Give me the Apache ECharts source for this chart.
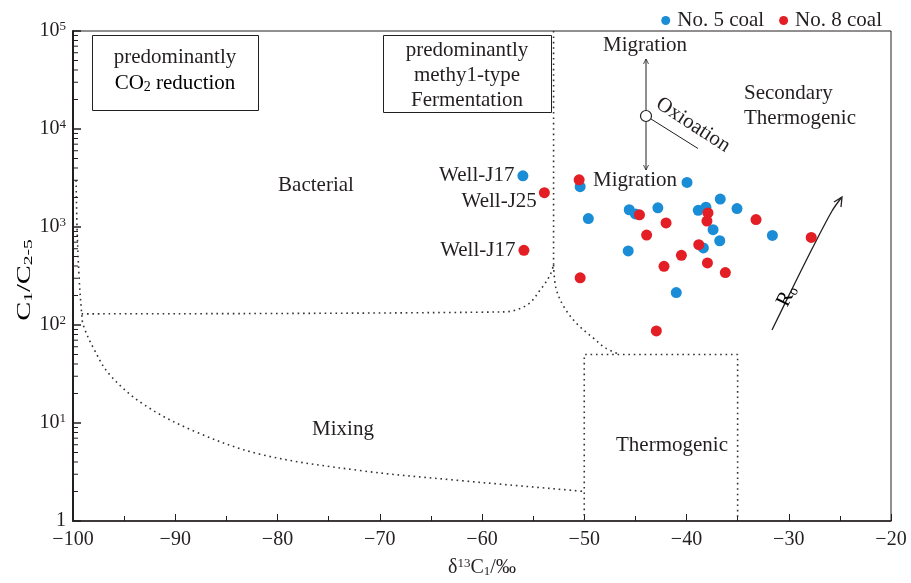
<!DOCTYPE html>
<html>
<head>
<meta charset="utf-8">
<script src="https://cdn.jsdelivr.net/npm/echarts@6/dist/echarts.min.js"></script>
<style>
  html, body { margin: 0; padding: 0; background: #fff; }
  #chart { width: 911px; height: 583px; }
</style>
</head>
<body>
<div id="chart"></div>
<script>
// δ13C1 (‰) vs C1/C2-5 for the two coal seams
const no5Coal = [
  [-56.0, 3330],
  [-50.4, 2580],
  [-39.95, 2850],
  [-49.6, 1220],
  [-45.6, 1500],
  [-45.0, 1360],
  [-42.8, 1570],
  [-45.7, 570],
  [-41.0, 214],
  [-38.85, 1480],
  [-38.1, 1590],
  [-37.4, 940],
  [-36.7, 1930],
  [-35.06, 1540],
  [-36.75, 724],
  [-38.35, 611],
  [-31.6, 820]
];
const no8Coal = [
  [-55.9, 578],
  [-53.9, 2240],
  [-50.5, 3030],
  [-44.6, 1330],
  [-42.0, 1100],
  [-43.9, 827],
  [-40.5, 514],
  [-42.2, 397],
  [-42.95, 87],
  [-50.4, 303],
  [-37.9, 1390],
  [-38.0, 1150],
  [-38.8, 660],
  [-37.95, 430],
  [-36.2, 343],
  [-33.2, 1190],
  [-27.8, 783]
];
// well names attached to individual samples: [series, index, name]
const wellNames = [
  ['No. 5 coal', 0, 'Well-J17'],
  ['No. 8 coal', 0, 'Well-J17'],
  ['No. 8 coal', 1, 'Well-J25']
];

// genetic-field boundaries (δ13C1, C1/C2-5)
const bacterialDivide = [[-53.0, 100000], [-53.0, 410]];
const bacterialFloor = [[-99.15, 130], [-57.9, 136], [-55.6, 160], [-54.2, 236], [-53.35, 322], [-53.0, 410]];
const thermogenicCurve = [[-53.0, 410], [-52.76, 236], [-51.9, 148], [-50.6, 100], [-49.1, 73.5], [-47.9, 58], [-46.5, 50]];
const mixingCurve = [[-99.7, 3000], [-99.6, 960], [-99.4, 300], [-99.15, 130], [-99.0, 100], [-98.0, 58], [-96.4, 31],
  [-93.1, 15.5], [-88.2, 8.3], [-81.7, 4.8], [-71.9, 3.27], [-62.2, 2.59], [-51.1, 2.05], [-50.0, 2.0]];
const thermogenicBox = [[-50, 1], [-50, 50], [-35, 50], [-35, 1]];

// axis ticks
const xTicks = { min: -100, max: -20, step: 10 };
const yExponents = [0, 1, 2, 3, 4, 5];
const yMinorTicks = [];
for (const e of yExponents.slice(0, -1)) {
  for (const m of [2, 3, 4, 5, 6, 7, 8, 9]) yMinorTicks.push(m * Math.pow(10, e));
}

const SERIF = '"Liberation Serif", "Times New Roman", serif';
const INK = '#231f20';
const BLUE = '#1b8dd7';
const RED = '#e31e24';
const NOTE_SIZE = 21;

function withWellLabels(name, pts) {
  return pts.map((p, i) => {
    const w = wellNames.find(d => d[0] === name && d[1] === i);
    if (!w) return p;
    const below = w[2] === 'Well-J25';
    return {
      value: p,
      label: {
        show: true, formatter: w[2], position: 'left', distance: below ? 2 : 3,
        offset: below ? [0, 9] : [0, 0],
        fontFamily: SERIF, fontSize: NOTE_SIZE, color: INK
      }
    };
  });
}

const dotted = { color: '#333', width: 1.6, type: [1.6, 3.8] };
function boundary(data, smooth) {
  return {
    type: 'line', data: data, symbol: 'none', silent: true, smooth: smooth,
    lineStyle: dotted, z: 1, animation: false
  };
}

const chart = echarts.init(document.getElementById('chart'), null, { renderer: 'canvas' });

const txt = (text, x, y, extra) => Object.assign({
  type: 'text', x: x, y: y, silent: true,
  style: Object.assign({
    text: text, font: NOTE_SIZE + 'px ' + SERIF, fill: INK,
    align: 'center', verticalAlign: 'middle', textAlign: 'center', textVerticalAlign: 'middle'
  }, (extra && extra.style) || {})
}, extra ? { rotation: extra.rotation || 0 } : {});

const subRich = {
  n: { fontFamily: SERIF, fontSize: NOTE_SIZE, color: INK },
  sb: { fontFamily: SERIF, fontSize: 14, color: INK, verticalAlign: 'bottom', padding: [8, 0, 0, 0] },
  sp: { fontFamily: SERIF, fontSize: 13, color: INK, verticalAlign: 'top', padding: [0, 0, 8, 0] }
};
const axisRich = {
  n: { fontFamily: SERIF, fontSize: 20, color: INK },
  sb: { fontFamily: SERIF, fontSize: 13, color: INK, verticalAlign: 'bottom', padding: [8, 0, 0, 0] },
  sp: { fontFamily: SERIF, fontSize: 13, color: INK, verticalAlign: 'top', padding: [0, 0, 8, 0] }
};
const yNameRich = {
  n: { fontFamily: SERIF, fontSize: 19, color: INK },
  sb: { fontFamily: SERIF, fontSize: 13, color: INK, verticalAlign: 'bottom', padding: [8, 0, 0, 0] }
};

chart.setOption({
  animation: false,
  backgroundColor: '#fff',
  textStyle: { fontFamily: SERIF, color: INK },
  grid: { left: 73, right: 20, top: 31, bottom: 59, show: true, borderColor: INK, borderWidth: 1, backgroundColor: 'transparent' },
  legend: {
    data: ['No. 5 coal', 'No. 8 coal'], right: 24, top: 5, icon: 'circle',
    itemWidth: 9, itemHeight: 9, itemGap: 15,
    textStyle: { fontFamily: SERIF, fontSize: NOTE_SIZE, color: INK, padding: [0, 0, 0, 2] }
  },
  xAxis: {
    type: 'value', min: xTicks.min, max: xTicks.max, interval: xTicks.step,
    name: '{n|δ}{sp|13}{n|C}{sb|1}{n|/‰}', nameLocation: 'middle', nameGap: 36,
    nameTextStyle: { rich: axisRich },
    axisLine: { show: true, lineStyle: { color: INK, width: 1.5 } },
    axisTick: { show: true, inside: true, length: 7, lineStyle: { color: INK, width: 1 } },
    minorTick: { show: true, splitNumber: 2, length: 5, lineStyle: { color: INK, width: 1 } },
    splitLine: { show: false },
    axisLabel: {
      margin: 9, fontFamily: SERIF, fontSize: 20, color: INK,
      formatter: v => String(v).replace('-', '−')
    }
  },
  yAxis: {
    type: 'log', logBase: 10, min: 1, max: 100000,
    axisLine: { show: true, lineStyle: { color: INK, width: 2 } },
    axisTick: { show: true, inside: true, length: 8, lineStyle: { color: INK, width: 1.5 } },
    splitLine: { show: false },
    axisLabel: {
      margin: 7, color: INK,
      formatter: v => {
        const e = Math.round(Math.log10(v));
        return e === 0 ? '{b|1}' : '{b|10}{s|' + e + '}';
      },
      rich: {
        b: { fontFamily: SERIF, fontSize: 20, color: INK },
        s: { fontFamily: SERIF, fontSize: 13, color: INK, verticalAlign: 'top', padding: [0, 0, 8, 0] }
      }
    }
  },
  series: [
    boundary(bacterialDivide, false),
    boundary(bacterialFloor, 0.35),
    boundary(thermogenicCurve, 0.35),
    boundary(mixingCurve, 0.35),
    boundary(thermogenicBox, false),
    {
      // logarithmic minor ticks on the C1/C2-5 axis
      type: 'custom', silent: true, z: 5,
      data: yMinorTicks.map(v => [xTicks.min, v]),
      renderItem: (params, api) => {
        const p = api.coord([api.value(0), api.value(1)]);
        return {
          type: 'line',
          shape: { x1: p[0], y1: p[1], x2: p[0] + 5, y2: p[1] },
          style: { stroke: INK, lineWidth: 1 }
        };
      }
    },
    {
      name: 'No. 5 coal', type: 'scatter', symbol: 'circle', symbolSize: 11, z: 3,
      itemStyle: { color: BLUE, opacity: 1 },
      data: withWellLabels('No. 5 coal', no5Coal)
    },
    {
      name: 'No. 8 coal', type: 'scatter', symbol: 'circle', symbolSize: 11, z: 3,
      itemStyle: { color: RED, opacity: 1 },
      data: withWellLabels('No. 8 coal', no8Coal)
    }
  ],
  graphic: [
    // y-axis title, set in a stretched face
    { type: 'text', x: 25, y: 280, rotation: Math.PI / 2, scaleX: 1.5, silent: true,
      style: { text: '{n|C}{sb|1}{n|/C}{sb|2-5}', rich: yNameRich, align: 'center', verticalAlign: 'middle',
        textAlign: 'center', textVerticalAlign: 'middle' } },

    // framed field names
    { type: 'rect', silent: true, shape: { x: 92.5, y: 35.5, width: 166, height: 75 },
      style: { fill: 'none', stroke: INK, lineWidth: 1 } },
    txt('predominantly', 175, 57),
    { type: 'text', x: 175, y: 83, silent: true,
      style: { text: '{n|CO}{sb|2}{n| reduction}', rich: subRich, align: 'center', verticalAlign: 'middle',
        textAlign: 'center', textVerticalAlign: 'middle' } },
    { type: 'rect', silent: true, shape: { x: 383.5, y: 35.5, width: 168, height: 77 },
      style: { fill: 'none', stroke: INK, lineWidth: 1 } },
    txt('predominantly', 467, 50),
    txt('methy1-type', 467, 75),
    txt('Fermentation', 467, 100),

    // open field names
    txt('Bacterial', 316, 185),
    txt('Mixing', 343, 429),
    txt('Thermogenic', 672, 445),
    txt('Secondary', 744, 93, { style: { align: 'left', textAlign: 'left' } }),
    txt('Thermogenic', 744, 118, { style: { align: 'left', textAlign: 'left' } }),

    // migration / oxidation sketch
    txt('Migration', 645, 45),
    txt('Migration', 635, 180),
    { type: 'line', silent: true, shape: { x1: 646, y1: 59, x2: 646, y2: 110.5 }, style: { stroke: INK, lineWidth: 1 } },
    { type: 'line', silent: true, shape: { x1: 646, y1: 121.5, x2: 646, y2: 170 }, style: { stroke: INK, lineWidth: 1 } },
    { type: 'polyline', silent: true, shape: { points: [[643.5, 64], [646, 59], [648.5, 64]] }, style: { stroke: INK, lineWidth: 0.8, fill: 'none' } },
    { type: 'polyline', silent: true, shape: { points: [[643.5, 165], [646, 170], [648.5, 165]] }, style: { stroke: INK, lineWidth: 0.8, fill: 'none' } },
    { type: 'line', silent: true, shape: { x1: 651, y1: 119, x2: 698, y2: 148.5 }, style: { stroke: INK, lineWidth: 1 } },
    { type: 'circle', silent: true, shape: { cx: 646, cy: 116, r: 5.5 }, style: { fill: '#fff', stroke: INK, lineWidth: 1.2 }, z: 10 },
    txt('Oxioation', 693, 125, { rotation: -0.575 }),

    // maturity trend arrow
    { type: 'polyline', silent: true,
      shape: { points: [[772, 330], [793, 287], [813, 247], [832, 211], [841.5, 197.5]], smooth: 0.3 },
      style: { stroke: INK, lineWidth: 1.3, fill: 'none' } },
    { type: 'polyline', silent: true, shape: { points: [[834, 202], [842, 197], [841, 207]] },
      style: { stroke: INK, lineWidth: 1.3, fill: 'none' } },
    { type: 'text', x: 787, y: 296, rotation: 1.117, silent: true,
      style: { text: '{n|R}{sb|o}', rich: subRich, align: 'center', verticalAlign: 'middle',
        textAlign: 'center', textVerticalAlign: 'middle' } }
  ]
});
</script>
</body>
</html>
